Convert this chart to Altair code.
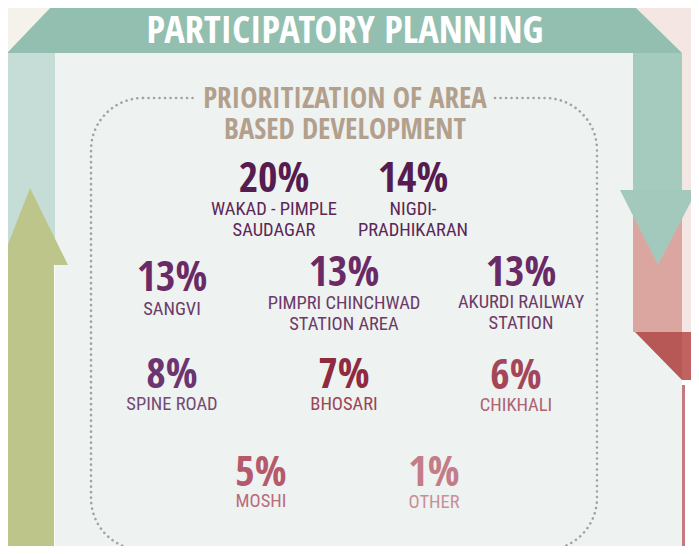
import altair as alt
import pandas as pd

# ---------------- data ----------------
HEADER = "PARTICIPATORY PLANNING"
SUBTITLE = ["PRIORITIZATION OF AREA", "BASED DEVELOPMENT"]
AREAS = [
    "WAKAD - PIMPLE\nSAUDAGAR",
    "NIGDI-\nPRADHIKARAN",
    "SANGVI",
    "PIMPRI CHINCHWAD\nSTATION AREA",
    "AKURDI RAILWAY\nSTATION",
    "SPINE ROAD",
    "BHOSARI",
    "CHIKHALI",
    "MOSHI",
    "OTHER",
]
SHARES = [20, 14, 13, 13, 13, 8, 7, 6, 5, 1]
NUM_COLORS = ["#561c50", "#561c50", "#6a2a65", "#6a2a65", "#6a2a65",
              "#6c3470", "#8e2b3e", "#a44659", "#b45a6a", "#c47c88"]
LABEL_COLORS = ["#5c2656", "#5c2656", "#6c3a67", "#6c3a67", "#6c3a67",
                "#744a72", "#9a4556", "#ad6272", "#b86d7a", "#c98f99"]

# ---------------- layout (pixel frame of the 699 x 554 picture) ----------------
POS_X = [274, 413, 172, 344, 521, 172, 344, 516, 261, 434]
NUM_Y = [179, 179, 278, 273, 272.5, 375, 375, 376, 473, 472.5]
LAB_Y = [208.5, 208.5, 309, 303, 302, 403.5, 403.5, 405, 500.5, 501.5]
LINE_GAP = 21

PANEL = "#eef2f1"
RECTS = [  # x, x2, y, y2, colour
    (0, 53, 0, 53, "#f4f2ea"),
    (633, 699, 0, 53, "#f3e6e3"),
    (53, 633, 0, 5, "#ffffff"),
    (55, 682, 53, 554, PANEL),
    (0, 7, 53, 554, "#f4f2ea"),
    (7, 55, 53, 265, "#c5ddd6"),
    (6, 54, 265, 554, "#bec58a"),
    (633, 682, 53, 190, "#a5cabe"),
    (633, 682, 190, 332, "#dca6a0"),
    (682, 699, 53, 332, "#f3e6e3"),
    (682, 699, 332, 380, "#c0625f"),
    (682, 699, 380, 554, "#ffffff"),
    (682, 685, 385, 554, "#c47a7e"),
]
POLYS = [  # list of (y, x, x2) rows, colour
    ([(5, 53, 633), (53, 7, 682)], "#93bfb1"),
    ([(188, 30, 30), (265, 0, 68)], "#bec58a"),
    ([(190, 620, 697), (265, 658, 658)], "#a3c8bc"),
    ([(332, 635, 682), (380, 682, 682)], "#b75856"),
]
BORDER = (91, 597, 98, 550)
TITLE_GAP = (196, 493, 91, 106)

FONT = "Open Sans Condensed, Roboto Condensed, sans-serif"
LABEL_FONT = "Roboto Condensed, Open Sans Condensed, sans-serif"

W, H = 683, 538
xs = alt.Scale(domain=[8, 691], nice=False, zero=False)
ys = alt.Scale(domain=[8, 546], reverse=True, nice=False, zero=False)


def X(f):
    return alt.X(f, type="quantitative", scale=xs, axis=None, title=None)


def Y(f):
    return alt.Y(f, type="quantitative", scale=ys, axis=None, title=None)


layers = []

rect_df = pd.DataFrame(RECTS, columns=["x", "x2", "y", "y2", "c"])
rect_df["i"] = range(len(rect_df))
layers.append(
    alt.Chart(rect_df).mark_rect(clip=True).encode(
        x=X("x"), x2="x2", y=Y("y"), y2="y2",
        color=alt.Color("c:N", scale=None), order="i:Q")
)

for rows, col in POLYS:
    pdf = pd.DataFrame(rows, columns=["y", "x", "x2"])
    layers.append(
        alt.Chart(pdf).mark_area(orient="horizontal", color=col, clip=True).encode(
            y=Y("y"), x=X("x"), x2="x2")
    )

# dotted rounded frame
bdf = pd.DataFrame([BORDER], columns=["x", "x2", "y", "y2"])
layers.append(
    alt.Chart(bdf).mark_rect(filled=False, stroke="#a3a3a3", strokeWidth=2.6,
                             strokeDash=[0.1, 5.4], strokeCap="round",
                             cornerRadius=52).encode(
        x=X("x"), x2="x2", y=Y("y"), y2="y2")
)
gdf = pd.DataFrame([TITLE_GAP], columns=["x", "x2", "y", "y2"])
layers.append(
    alt.Chart(gdf).mark_rect(color=PANEL).encode(x=X("x"), x2="x2", y=Y("y"), y2="y2")
)

# header
hdf = pd.DataFrame({"t": [HEADER], "x": [345], "y": [31]})
layers.append(
    alt.Chart(hdf).mark_text(font=FONT, fontSize=38.5, fontWeight="bold", color="#ffffff",
                             align="center", baseline="middle").encode(
        x=X("x"), y=Y("y"), text="t:N")
)
# subtitle
sdf = pd.DataFrame({"t": SUBTITLE, "x": [345, 345], "y": [99, 130]})
layers.append(
    alt.Chart(sdf).mark_text(font=FONT, fontSize=29, fontWeight="bold", color="#b3a08c",
                             align="center", baseline="middle").encode(
        x=X("x"), y=Y("y"), text="t:N")
)

# percentages
ndf = pd.DataFrame({"t": [f"{v}%" for v in SHARES], "x": POS_X, "y": NUM_Y, "c": NUM_COLORS})
layers.append(
    alt.Chart(ndf).mark_text(font=FONT, fontSize=42, fontWeight="bold",
                             align="center", baseline="middle").encode(
        x=X("x"), y=Y("y"), text="t:N", color=alt.Color("c:N", scale=None))
)

# area names (one row per line)
lrows = []
for name, x, y, c in zip(AREAS, POS_X, LAB_Y, LABEL_COLORS):
    for k, line in enumerate(name.split("\n")):
        lrows.append({"t": line, "x": x, "y": y + k * LINE_GAP, "c": c})
ldf = pd.DataFrame(lrows)
layers.append(
    alt.Chart(ldf).mark_text(font=LABEL_FONT, fontSize=18.5, fontWeight="normal",
                             align="center", baseline="middle").encode(
        x=X("x"), y=Y("y"), text="t:N", color=alt.Color("c:N", scale=None))
)

chart = alt.layer(*layers).properties(
    width=W, height=H, padding=0, autosize=alt.AutoSizeParams(type="none"),
    background="#ffffff",
).configure_view(stroke=None)

chart.save("out.html", embed_options={"renderer": "svg", "actions": False})
